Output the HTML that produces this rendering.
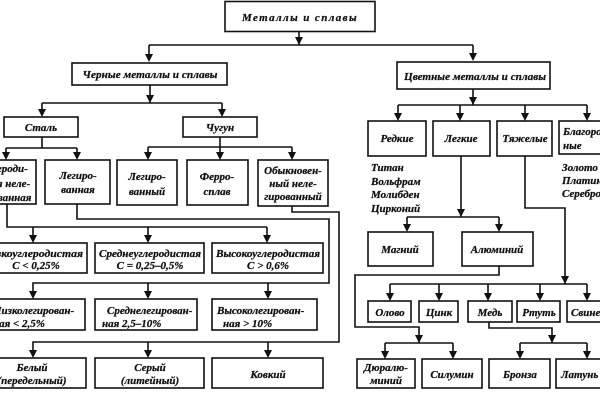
<!DOCTYPE html>
<html><head><meta charset="utf-8">
<style>
html,body{margin:0;padding:0;background:#fff;}
svg{display:block;}
text{font-family:"Liberation Serif","DejaVu Serif",serif;font-style:italic;font-weight:bold;font-size:11px;fill:#111;stroke:#111;stroke-width:0.25;}
</style></head>
<body>
<svg width="600" height="400" viewBox="0 0 600 400" xmlns="http://www.w3.org/2000/svg">
<rect x="0" y="0" width="600" height="400" fill="#fff"/>
<g fill="none" stroke="#111" stroke-width="1.6">
<!-- boxes -->
<rect x="225" y="1.5" width="150" height="30"/>
<rect x="72" y="63" width="155" height="22"/>
<rect x="397" y="62" width="153" height="27"/>
<rect x="4" y="117" width="74" height="20"/>
<rect x="183" y="117" width="74" height="20"/>
<rect x="-29" y="160" width="65" height="44"/>
<rect x="45" y="160" width="65" height="44"/>
<rect x="117" y="160" width="60" height="45"/>
<rect x="187" y="160" width="61" height="45"/>
<rect x="258" y="160" width="70" height="46"/>
<rect x="-22" y="243" width="109" height="30"/>
<rect x="95" y="243" width="109" height="30"/>
<rect x="212" y="243" width="111" height="30"/>
<rect x="-20" y="299" width="105" height="31"/>
<rect x="95" y="299" width="102" height="31"/>
<rect x="212" y="299" width="105" height="31"/>
<rect x="-22" y="358" width="108" height="30"/>
<rect x="95" y="358" width="109" height="30"/>
<rect x="212" y="358" width="111" height="30"/>
<!-- right side -->
<rect x="368" y="121" width="58" height="35"/>
<rect x="433" y="121" width="57" height="35"/>
<rect x="497" y="121" width="55" height="35"/>
<rect x="559" y="121" width="60" height="33"/>
<rect x="368" y="232" width="65" height="34"/>
<rect x="462" y="232" width="71" height="34"/>
<rect x="368" y="301" width="43" height="21"/>
<rect x="419" y="301" width="39" height="21"/>
<rect x="468" y="301" width="44" height="21"/>
<rect x="517" y="301" width="43" height="21"/>
<rect x="567" y="301" width="50" height="21"/>
<rect x="357" y="359" width="58" height="29"/>
<rect x="422" y="359" width="60" height="29"/>
<rect x="489" y="359" width="61" height="29"/>
<rect x="556" y="359" width="60" height="29"/>
<!-- connectors -->
<path d="M299,32V45 M149,45H473 M149,45V55 M473,45V55
M150,85V103 M42,103H222 M42,103V110 M222,103V110
M42,137V148 M6,148H77 M6,148V152 M77,148V152
M220,137V147 M148,147H292 M148,147V152 M220,147V152 M292,147V152
M7,204V227H267 M33,227V236 M148,227V236 M267,227V236
M77,204V219H329V283H33V292 M148,283V292 M268,283V292
M292,206V212H339V342H33V350 M148,342V350 M268,342V350
M473,89V105 M398,105H587 M398,105V114 M460,105V114 M525,105V114 M587,105V114
M461,156V217 M407,217H499 M407,217V225 M499,217V225
M499,266V275H355V327H419V343 M385,343H453 M385,343V352 M453,343V352
M525,156V208H565V284 M390,284H587 M390,284V294 M439,284V294 M488,284V294 M540,284V294 M587,284V294
M489,322V328H552V343 M520,343H587 M520,343V352 M587,343V352"/>
</g>
<g fill="#111">
<polygon points="295,37 303,37 299,45"/>
<polygon points="145,54 153,54 149,62"/>
<polygon points="469,53 477,53 473,61"/>
<polygon points="146,95 154,95 150,103"/>
<polygon points="38,109 46,109 42,117"/>
<polygon points="218,109 226,109 222,117"/>
<polygon points="2,152 10,152 6,160"/>
<polygon points="73,152 81,152 77,160"/>
<polygon points="144,152 152,152 148,160"/>
<polygon points="216,152 224,152 220,160"/>
<polygon points="288,152 296,152 292,160"/>
<polygon points="29,235 37,235 33,243"/>
<polygon points="144,235 152,235 148,243"/>
<polygon points="263,235 271,235 267,243"/>
<polygon points="29,291 37,291 33,299"/>
<polygon points="144,291 152,291 148,299"/>
<polygon points="264,291 272,291 268,299"/>
<polygon points="29,350 37,350 33,358"/>
<polygon points="144,350 152,350 148,358"/>
<polygon points="264,350 272,350 268,358"/>
<polygon points="469,97 477,97 473,105"/>
<polygon points="394,113 402,113 398,121"/>
<polygon points="456,113 464,113 460,121"/>
<polygon points="521,113 529,113 525,121"/>
<polygon points="583,113 591,113 587,121"/>
<polygon points="457,209 465,209 461,217"/>
<polygon points="403,224 411,224 407,232"/>
<polygon points="495,224 503,224 499,232"/>
<polygon points="561,276 569,276 565,284"/>
<polygon points="386,293 394,293 390,301"/>
<polygon points="435,293 443,293 439,301"/>
<polygon points="484,293 492,293 488,301"/>
<polygon points="536,293 544,293 540,301"/>
<polygon points="583,293 591,293 587,301"/>
<polygon points="415,335 423,335 419,343"/>
<polygon points="381,351 389,351 385,359"/>
<polygon points="449,351 457,351 453,359"/>
<polygon points="548,335 556,335 552,343"/>
<polygon points="516,351 524,351 520,359"/>
<polygon points="583,351 591,351 587,359"/>
</g>
<!-- texts -->
<g text-anchor="middle">
<text x="300" y="21" font-size="12" letter-spacing="1.4">Металлы и сплавы</text>
<text x="150" y="78" textLength="135" lengthAdjust="spacingAndGlyphs">Черные металлы и сплавы</text>
<text x="475" y="80" textLength="142" lengthAdjust="spacingAndGlyphs">Цветные металлы и сплавы</text>
<text x="41" y="131">Сталь</text>
<text x="220" y="131">Чугун</text>
<text x="4" y="172">Углероди-</text>
<text x="4" y="187">стая неле-</text>
<text x="4" y="201">гированная</text>
<text x="78" y="179">Легиро-</text>
<text x="78" y="193">ванная</text>
<text x="147" y="180">Легиро-</text>
<text x="147" y="195">ванный</text>
<text x="217" y="180">Ферро-</text>
<text x="217" y="195">сплав</text>
<text x="293" y="174">Обыкновен-</text>
<text x="293" y="187">ный неле-</text>
<text x="293" y="200">гированный</text>
<text x="32" y="257" textLength="102" lengthAdjust="spacingAndGlyphs">Низкоуглеродистая</text>
<text x="36" y="269">C &lt; 0,25%</text>
<text x="150" y="257" textLength="102" lengthAdjust="spacingAndGlyphs">Среднеуглеродистая</text>
<text x="150" y="269">C = 0,25–0,5%</text>
<text x="268" y="257" textLength="104" lengthAdjust="spacingAndGlyphs">Высокоуглеродистая</text>
<text x="268" y="269">C &gt; 0,6%</text>
<text x="32" y="371">Белый</text>
<text x="32" y="384">(передельный)</text>
<text x="150" y="371">Серый</text>
<text x="150" y="384">(литейный)</text>
<text x="268" y="378">Ковкий</text>
<text x="397" y="142">Редкие</text>
<text x="461" y="142">Легкие</text>
<text x="525" y="142">Тяжелые</text>
<text x="400" y="253">Магний</text>
<text x="497" y="253">Алюминий</text>
<text x="390" y="316">Олово</text>
<text x="439" y="316">Цинк</text>
<text x="490" y="316">Медь</text>
<text x="539" y="316">Ртуть</text>
<text x="386" y="371">Дюралю-</text>
<text x="386" y="384">миний</text>
<text x="452" y="378">Силумин</text>
<text x="520" y="378">Бронза</text>
</g>
<g text-anchor="start">
<text x="-7" y="314">Низколегирован-</text>
<text x="-7" y="327">ная &lt; 2,5%</text>
<text x="107" y="314">Среднелегирован-</text>
<text x="102" y="327">ная  2,5–10%</text>
<text x="217" y="314">Высоколегирован-</text>
<text x="223" y="327">ная &gt; 10%</text>
<text x="563" y="135">Благород-</text>
<text x="563" y="149">ные</text>
<text x="371" y="171">Титан</text>
<text x="371" y="185">Вольфрам</text>
<text x="371" y="198">Молибден</text>
<text x="371" y="212">Цирконий</text>
<text x="562" y="171">Золото</text>
<text x="562" y="184">Платина</text>
<text x="562" y="197">Серебро</text>
<text x="571" y="316">Свинец</text>
<text x="561" y="378">Латунь</text>
</g>
</svg>
</body></html>
